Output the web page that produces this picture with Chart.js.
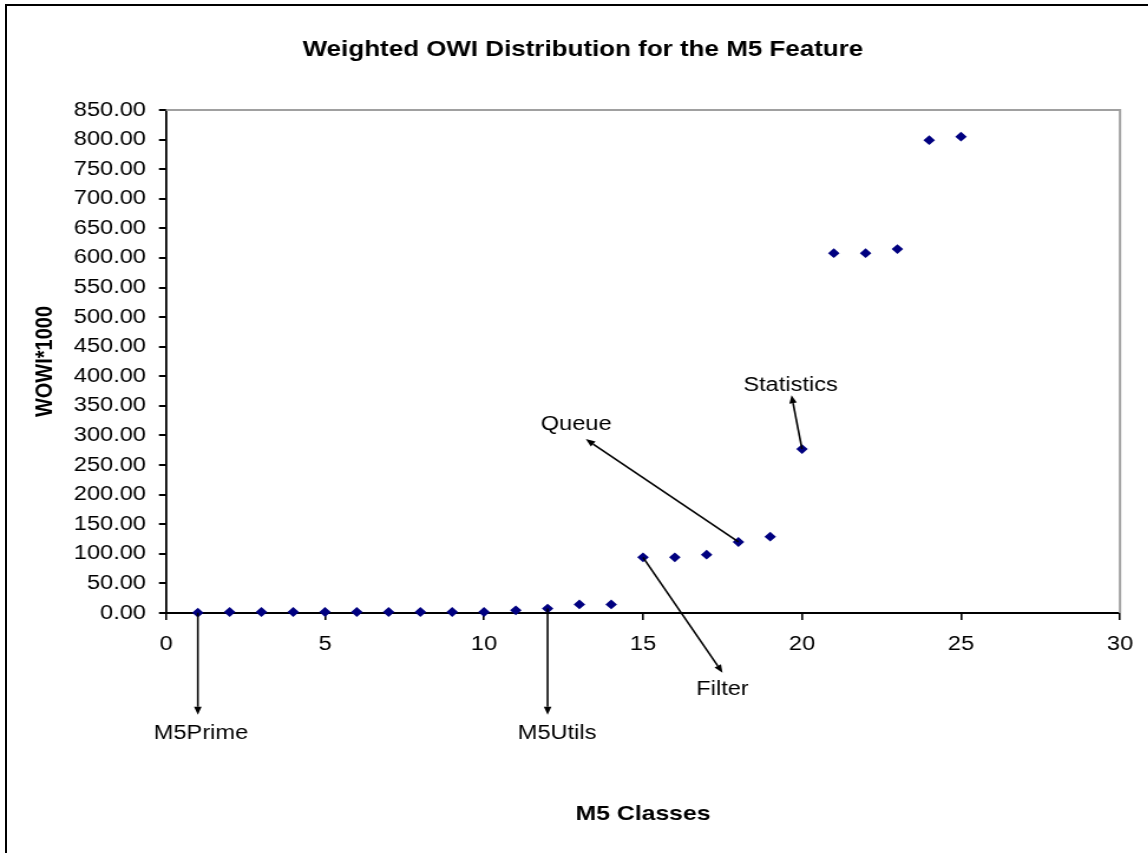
<!DOCTYPE html>
<html>
<head>
<meta charset="utf-8">
<script src="https://cdn.jsdelivr.net/npm/chart.js@4.4.1/dist/chart.umd.min.js"></script>
<style>
  html, body { margin: 0; padding: 0; background: #fff; overflow: hidden; }
  #frame { position: absolute; left: 5px; top: 4px; width: 1300px; height: 1000px; border: 2px solid #000; box-sizing: border-box; }
  #wrap { position: absolute; left: 0; top: 0; width: 973px; height: 853px; transform: scaleX(1.18); transform-origin: 0 0; }
</style>
</head>
<body>
<div id="frame"></div>
<div id="wrap"><canvas id="c"></canvas></div>
<script>
// ---- data ----
const chartTitle = 'Weighted OWI Distribution for the M5 Feature';
const classIndex = [1,2,3,4,5,6,7,8,9,10,11,12,13,14,15,16,17,18,19,20,21,22,23,24,25];
const wowiValues = [0.5,1.7,1.7,1.7,1.7,1.7,1.7,1.7,1.7,1.7,4.5,7.5,14.5,14.5,94,94,98.5,120,129,277,608,608,615,799,805];
const xTickMin = 0, xTickMax = 30, xTickStep = 5;
const yTickMin = 0, yTickMax = 850, yTickStep = 50;
// annotations (data coordinates)
const annoLabels = ['M5Prime', 'M5Utils', 'Filter', 'Queue', 'Statistics'];
const annoFromIdx = [0, 11, 14, 17, 19];
const annoToX = [1, 12, 17.5, 13.2, 19.67];
const annoToY = [-172, -172, -101, 294, 368];
const annoTextX = [1.1, 12.3, 17.5, 12.9, 19.64];
const annoTextY = [-203, -203, -130, 319, 385];

const FONT = "'Liberation Sans', Arial, sans-serif";

const points = classIndex.map((x, i) => ({ x: x, y: wowiValues[i] }));

const framePlugin = {
  id: 'plotFrame',
  beforeDatasetsDraw(chart) {
    const { ctx, chartArea: a } = chart;
    ctx.save();
    ctx.strokeStyle = '#a0a0a0';
    ctx.lineWidth = 2;
    ctx.beginPath();
    ctx.moveTo(a.left, a.top);
    ctx.lineTo(a.right, a.top);
    ctx.lineTo(a.right, a.bottom);
    ctx.stroke();
    ctx.restore();
  },
  afterDraw(chart) {
    // chart title, centred on the (cropped) chart frame
    const { ctx } = chart;
    ctx.save();
    ctx.font = 'bold 22px ' + FONT;
    ctx.fillStyle = '#000';
    ctx.textAlign = 'center';
    ctx.textBaseline = 'middle';
    ctx.fillText(chartTitle, 494, 50);
    ctx.restore();
  }
};

const arrowPlugin = {
  id: 'arrows',
  afterDatasetsDraw(chart) {
    const { ctx } = chart;
    const xs = chart.scales.x, ys = chart.scales.y;
    ctx.save();
    for (let i = 0; i < annoLabels.length; i++) {
      const p = points[annoFromIdx[i]];
      const x0 = xs.getPixelForValue(p.x), y0 = ys.getPixelForValue(p.y);
      const x1 = xs.getPixelForValue(annoToX[i]), y1 = ys.getPixelForValue(annoToY[i]);
      ctx.strokeStyle = '#000';
      ctx.fillStyle = '#000';
      ctx.lineWidth = 1.6;
      const ang = Math.atan2(y1 - y0, x1 - x0);
      const hl = 8, hw = 3.2;
      const bx = x1 - hl * Math.cos(ang), by = y1 - hl * Math.sin(ang);
      ctx.beginPath();
      ctx.moveTo(x0, y0);
      ctx.lineTo(bx, by);
      ctx.stroke();
      ctx.beginPath();
      ctx.moveTo(x1, y1);
      ctx.lineTo(bx + hw * Math.sin(ang), by - hw * Math.cos(ang));
      ctx.lineTo(bx - hw * Math.sin(ang), by + hw * Math.cos(ang));
      ctx.closePath();
      ctx.fill();
      ctx.font = '20px ' + FONT;
      ctx.textAlign = 'center';
      ctx.textBaseline = 'middle';
      ctx.fillText(annoLabels[i], xs.getPixelForValue(annoTextX[i]), ys.getPixelForValue(annoTextY[i]));
    }
    ctx.restore();
  }
};

new Chart(document.getElementById('c'), {
  type: 'scatter',
  data: {
    datasets: [{
      data: points,
      pointStyle: 'rectRot',
      pointRadius: 4.9,
      pointHoverRadius: 4.9,
      backgroundColor: '#000080',
      borderColor: '#000080',
      borderWidth: 0,
      showLine: false,
      clip: false
    }]
  },
  options: {
    responsive: true,
    maintainAspectRatio: false,
    animation: false,
    events: [],
    layout: { padding: { left: 0, right: 23.85, top: 110, bottom: 26.4 } },
    plugins: {
      legend: { display: false },
      tooltip: { enabled: false },
      title: { display: false }
    },
    scales: {
      x: {
        type: 'linear',
        min: xTickMin, max: xTickMax,
        afterFit(s) { s.height = 213.6; },
        ticks: { stepSize: xTickStep, color: '#000', font: { family: FONT, size: 20 }, padding: 12, maxRotation: 0 },
        grid: { drawOnChartArea: false, drawTicks: true, tickLength: 7, color: '#000', lineWidth: 1.6 },
        border: { color: '#000', width: 2 },
        title: { display: true, text: 'M5 Classes', color: '#000', font: { family: FONT, size: 21, weight: 'bold' }, padding: { top: 0, bottom: 0 } }
      },
      y: {
        type: 'linear',
        min: yTickMin, max: yTickMax,
        afterFit(s) { s.width = 140.7; },
        ticks: { stepSize: yTickStep, color: '#000', font: { family: FONT, size: 20 }, padding: 11, callback: v => Number(v).toFixed(2) },
        grid: { drawOnChartArea: false, drawTicks: true, tickLength: 6, color: '#000', lineWidth: 2 },
        border: { color: '#000', width: 1.8 },
        title: { display: true, text: 'WOWI*1000', color: '#000', font: { family: FONT, size: 20, weight: 'bold' }, padding: { top: 26, bottom: 0 } }
      }
    }
  },
  plugins: [framePlugin, arrowPlugin]
});
</script>
</body>
</html>
